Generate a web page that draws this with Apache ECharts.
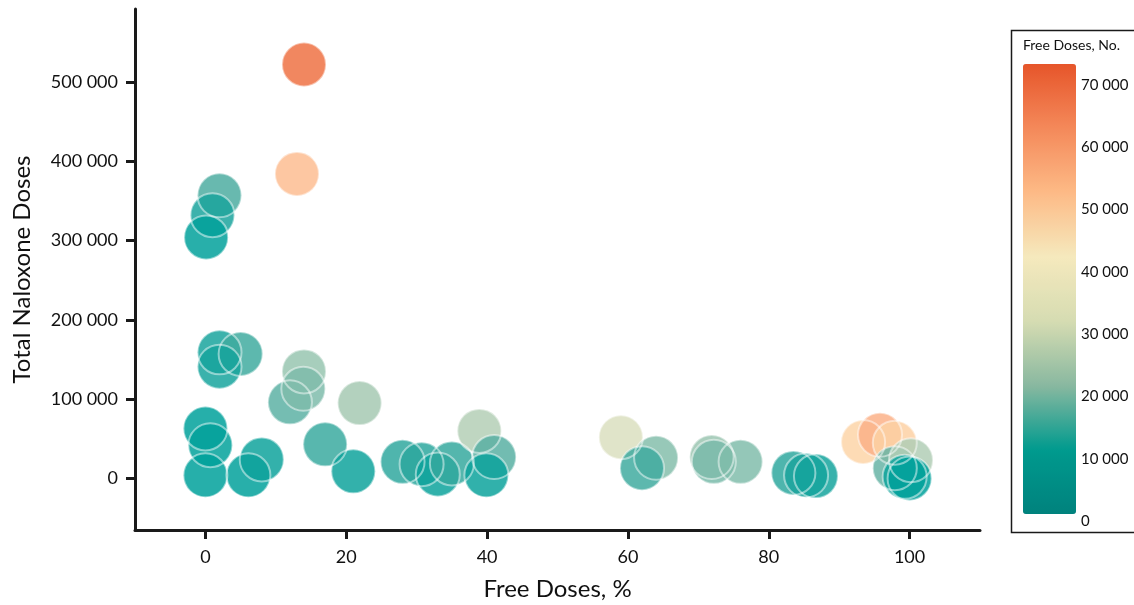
<!DOCTYPE html>
<html>
<head>
<meta charset="utf-8">
<script src="https://cdn.jsdelivr.net/npm/echarts@6/dist/echarts.min.js"></script>
<style>
  html, body { margin: 0; padding: 0; background: #fff; }
  #chart { width: 1134px; height: 605px; }
</style>
</head>
<body>
<div id="chart"></div>
<script>
// free doses share (%), total naloxone doses, free doses count
const freePct = [14, 13, 2, 1, 0.1, 2, 5, 2, 0, 0.7, 0, 6.1, 8,
  12, 14, 13.9, 21.9, 17, 21, 28, 30.7, 33, 35, 38.9, 41, 39.9,
  59, 64, 62, 71.9, 72.2, 76, 83.5, 85.3, 86.7, 93.4, 95.8, 97.9, 97.9, 100.2, 99.3, 100]
const totalDoses = [522000, 384000, 357000, 332000, 304000, 159000, 157000, 141000, 63000, 42000, 4000, 4000, 24000,
  96000, 135000, 113000, 95000, 43000, 9000, 21000, 18000, 5000, 19000, 60000, 27000, 4000,
  52000, 26000, 13000, 27000, 21000, 21000, 7000, 4000, 3000, 46000, 55000, 45000, 13000, 23000, 2000, 0]
const freeCount = [72000, 49500, 9500, 3300, 300, 3200, 8000, 2800, 0, 400, 0, 200, 1900,
  11500, 19000, 15800, 20800, 7300, 1900, 5900, 5500, 1600, 6600, 23400, 11000, 1600,
  30700, 16600, 8000, 19400, 15200, 16000, 5800, 3400, 2600, 43000, 52700, 44000, 12700, 23000, 2000, 0]

const xTicks = [0, 20, 40, 60, 80, 100]
const yTicks = [0, 100000, 200000, 300000, 400000, 500000]
const legendTicks = [0, 10000, 20000, 30000, 40000, 50000, 60000, 70000]

// bubble fills (drawn at 0.85 opacity) and the legend ramp
const bubbleColors = ['#00a19b', '#54aea2', '#a5c9b3', '#dbe0bf', '#fddbae', '#fdb68b', '#f6956c', '#ee7143']
const legendColors = ['#00827d', '#009a8e', '#89b8a0', '#d6dcb2', '#f5e9bd', '#fdba86', '#f4895a', '#e6552a']

const points = freePct.map((x, i) => [x, totalDoses[i], freeCount[i]])

const fmt = v => String(v).replace(/\B(?=(\d{3})+(?!\d))/g, ' ')
const FONT = 'Lato'
const AXIS = '#1a1a1a'

let myChart = echarts.init(document.getElementById('chart'))
let option = {
  animation: false,
  textStyle: { fontFamily: FONT },
  grid: [
    { left: 135, right: 154, top: 9, bottom: 75, outerBoundsMode: 'none' },
    { left: 1023, top: 71, width: 53, height: 450, outerBoundsMode: 'none' }
  ],
  xAxis: [
    {
      type: 'value',
      min: -10,
      max: 110,
      name: 'Free Doses, %',
      nameLocation: 'middle',
      nameGap: 47,
      nameTextStyle: { fontSize: 24, color: '#111', fontFamily: FONT },
      splitLine: { show: false },
      axisLine: { show: true, onZero: false, lineStyle: { color: AXIS, width: 3 } },
      axisTick: { show: true, length: 9, lineStyle: { color: AXIS, width: 3 }, customValues: xTicks },
      axisLabel: { fontSize: 18, color: '#111', margin: 18, customValues: xTicks }
    },
    { gridIndex: 1, type: 'value', show: false, min: 0, max: 1 }
  ],
  yAxis: [
    {
      type: 'value',
      min: -65000,
      max: 592000,
      name: 'Total Naloxone Doses',
      nameLocation: 'middle',
      nameGap: 101,
      nameTextStyle: { fontSize: 24, color: '#111', fontFamily: FONT },
      splitLine: { show: false },
      axisLine: { show: true, onZero: false, lineStyle: { color: AXIS, width: 3 } },
      axisTick: { show: true, length: 9, lineStyle: { color: AXIS, width: 3 }, customValues: yTicks },
      axisLabel: { fontSize: 18, color: '#111', margin: 17, formatter: fmt, customValues: yTicks }
    },
    {
      gridIndex: 1,
      type: 'value',
      position: 'right',
      min: 0,
      max: 72200,
      splitLine: { show: false },
      axisLine: { show: false },
      axisTick: { show: false },
      axisLabel: { fontSize: 15, color: '#111', margin: 5, formatter: fmt, customValues: legendTicks }
    }
  ],
  visualMap: [
    {
      type: 'continuous',
      show: false,
      seriesIndex: 0,
      dimension: 2,
      min: 0,
      max: 72200,
      inRange: { color: bubbleColors }
    },
    {
      type: 'continuous',
      show: true,
      seriesIndex: 2,
      min: 0,
      max: 72200,
      left: 1023,
      top: 64,
      padding: 0,
      itemWidth: 53,
      itemHeight: 450,
      calculable: false,
      hoverLink: false,
      inRange: { color: legendColors }
    }
  ],
  graphic: [
    {
      type: 'rect',
      left: 1009,
      top: 28,
      shape: { width: 140, height: 502 },
      style: { fill: 'none', stroke: '#1a1a1a', lineWidth: 1.5 }
    },
    {
      type: 'text',
      left: 1023,
      top: 38,
      style: { text: 'Free Doses, No.', font: '14px Lato', fill: '#111' }
    }
  ],
  series: [
    {
      name: 'doses',
      type: 'scatter',
      symbolSize: 44,
      data: points,
      itemStyle: { opacity: 0.85 }
    },
    {
      name: 'rings',
      type: 'scatter',
      symbolSize: 44,
      silent: true,
      data: points,
      itemStyle: { color: 'rgba(0,0,0,0)', borderColor: 'rgba(255,255,255,0.6)', borderWidth: 2 }
    },
    {
      name: 'legend',
      type: 'scatter',
      xAxisIndex: 1,
      yAxisIndex: 1,
      data: []
    }
  ]
}
myChart.setOption(option)
</script>
</body>
</html>
